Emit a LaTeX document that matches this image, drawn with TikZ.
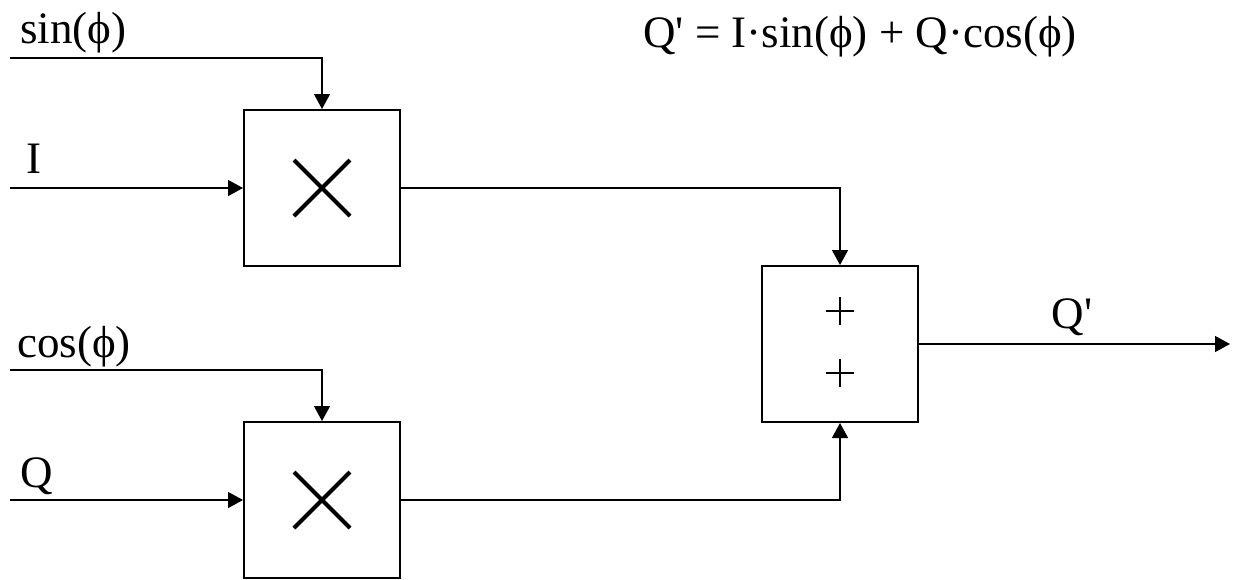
\documentclass[tikz,border=0pt]{standalone}
\usepackage{fontspec}
\newfontfamily\diagfont{Liberation Serif}
\usetikzlibrary{arrows.meta}
\tikzset{
  blk/.style={draw, line width=2pt, minimum width=156pt, minimum height=156pt, inner sep=0pt},
  lbl/.style={font=\diagfont\fontsize{45}{52}\selectfont, inner sep=0pt, anchor=base west},
  sig/.style={line width=1.4pt, -{Triangle[length=15pt, width=16pt]}},
}
\begin{document}
\begin{tikzpicture}[x=1pt, y={(0pt,-1pt)}]
\useasboundingbox (0,0) rectangle (1233,579);

% the two multipliers and the adder
\node[blk] (mulI) at (322,188){};
\node[blk] (mulQ) at (322,500){};
\node[blk] (adder) at (840,344){};
\draw[line width=4pt] (294,160)--(350,216) (294,216)--(350,160);
\draw[line width=4pt] (294,472)--(350,528) (294,528)--(350,472);
\draw[line width=1.8pt] (826,311)--(854,311) (840,297)--(840,325);
\draw[line width=1.8pt] (826,373)--(854,373) (840,359)--(840,387);

% inputs
\coordinate (sinIn) at (10,58);
\coordinate (iIn) at (10,188);
\coordinate (cosIn) at (10,370);
\coordinate (qIn) at (10,500);
\coordinate (out) at (1230,344);

\node[lbl] (sinL) at (20,43){sin(ϕ)};
\node[lbl] (iL) at (26,173){I};
\node[lbl] (cosL) at (17,357){cos(ϕ)};
\node[lbl] (qL) at (20,487){Q};
\node[lbl, anchor=base] (outL) at (1072,328){Q'};
\node[lbl] (eq) at (643,47){Q' = I·sin(ϕ) + Q·cos(ϕ)};

\draw[sig] (sinIn)-|(mulI.north);
\draw[sig] (iIn)--(mulI.west);
\draw[sig] (cosIn)-|(mulQ.north);
\draw[sig] (qIn)--(mulQ.west);
\draw[sig] (mulI.east)-|(adder.north);
\draw[sig] (mulQ.east)-|(adder.south);
\draw[sig] (adder.east)--(out);

\end{tikzpicture}
\end{document}
